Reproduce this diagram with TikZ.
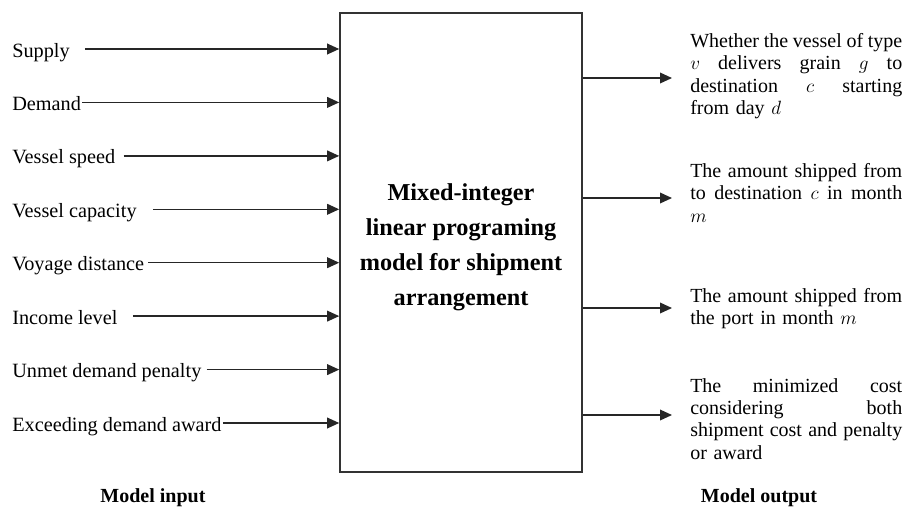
\documentclass[tikz,border=0pt]{standalone}
\usepackage{fontspec}
\setmainfont{Liberation Serif}
\usetikzlibrary{arrows.meta}
\newlength\outw
\setlength\outw{159pt}
\newcommand\jline[1]{\leavevmode\hbox to \outw{\spaceskip=0.15em plus 1fil\relax #1}}
\begin{document}
\begin{tikzpicture}[x=0.75pt,y=-0.75pt,
  lbl/.style={anchor=base west, inner sep=0pt, font=\fontsize{15.2}{17}\selectfont},
  arr/.style={line width=1.05pt, draw=black!85, -{Triangle[length=9pt,width=8pt]}},
  outtxt/.style={anchor=north west, inner sep=0pt, text width=\outw, align=left,
                 font=\fontsize{15}{16.8}\selectfont},
  model/.style={draw=black!80, line width=1.2pt, minimum width=181.5pt,
                minimum height=344.25pt, inner sep=0pt},
  title/.style={align=center, inner sep=0pt,
                font=\fontsize{18.2}{26.25}\selectfont\bfseries},
  caption/.style={inner sep=0pt, font=\fontsize{15}{18}\selectfont\bfseries}
]
\useasboundingbox (0,0) rectangle (906,511);

\node[model] (box) at (461,242.5) {};
\node[title] (ttl) at ([yshift=-3.75pt]box.center) {Mixed-integer\\linear programing\\model for shipment\\arrangement};

% inputs
\node[lbl] (i1) at (12,57)    {Supply};
\node[lbl] (i2) at (12,110.4) {Demand};
\node[lbl] (i3) at (12,163.9) {Vessel speed};
\node[lbl] (i4) at (12,217.3) {Vessel capacity};
\node[lbl] (i5) at (12,270.7) {Voyage distance};
\node[lbl] (i6) at (12,324.1) {Income level};
\node[lbl] (i7) at (12,377.6) {Unmet demand penalty};
\node[lbl] (i8) at (12,431)   {Exceeding demand award};

\foreach \n/\g in {i1/15,i2/1,i3/8,i4/16,i5/4,i6/15,i7/5,i8/1}{
  \path ([shift={(\g,-8)}]\n.base east) coordinate (\n s);
  \draw[arr] (\n s) -- (\n s -| box.west);
}

% outputs
\coordinate (o1) at (672,78);
\coordinate (o2) at (672,198);
\coordinate (o3) at (672,308);
\coordinate (o4) at (672,415);
\foreach \o in {o1,o2,o3,o4}{
  \draw[arr] (box.east |- \o) -- (\o);
}

\node[outtxt] (t1) at (690,33) {\jline{Whether the vessel of type}\\
  \jline{$v$ delivers grain $g$ to}\\
  \jline{destination $c$ starting}\\
  from day $d$};
\node[outtxt] (t2) at (690,163) {\jline{The amount shipped from}\\
  \jline{to destination $c$ in month}\\
  $m$};
\node[outtxt] (t3) at (690,288) {\jline{The amount shipped from}\\
  the port in month $m$};
\node[outtxt] (t4) at (690,378) {\jline{The minimized cost}\\
  \jline{considering both}\\
  \jline{shipment cost and penalty}\\
  or award};

\node[caption] (cin)  at (153,498) {Model input};
\node[caption] (cout) at (759,498) {Model output};
\end{tikzpicture}
\end{document}
